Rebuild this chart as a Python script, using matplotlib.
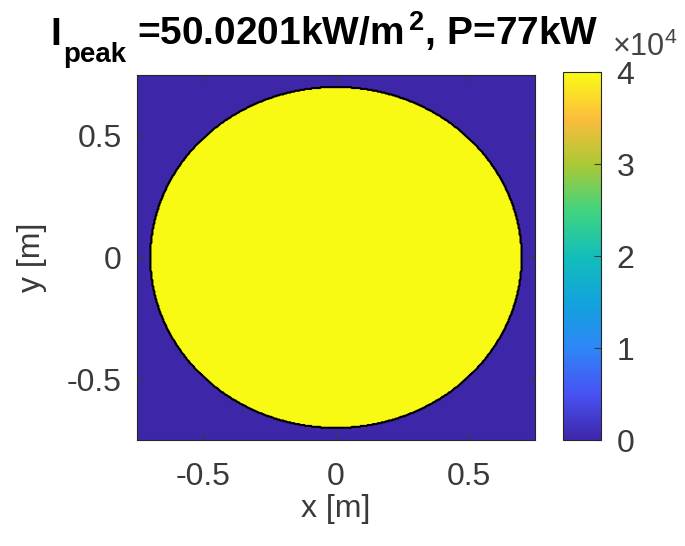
import numpy as np
import matplotlib
matplotlib.use('Agg')
from matplotlib import pyplot as plt
from matplotlib.colors import LinearSegmentedColormap

# beam spot: flat-top disc on a square grid
i_peak = 50.0201e3      # W/m^2
radius = 0.7            # m
half_width = 0.75       # m
n_grid = 401
clim = [0, 4e4]
cbar_ticks = [0, 1e4, 2e4, 3e4, 4e4]
cbar_labels = ['0', '1', '2', '3', '4']
ax_ticks = [-0.5, 0, 0.5]
ax_labels = ['-0.5', '0', '0.5']

# parula-like colormap (anchor colours from MATLAB's parula)
parula_pts = [
    (0.2422, 0.1504, 0.6603),
    (0.2810, 0.3228, 0.9579),
    (0.1786, 0.5289, 0.9682),
    (0.0689, 0.6396, 0.8637),
    (0.0704, 0.7457, 0.7258),
    (0.2586, 0.8292, 0.4968),
    (0.6710, 0.7863, 0.2061),
    (0.9892, 0.7415, 0.2391),
    (0.9769, 0.9839, 0.0805),
]
parula = LinearSegmentedColormap.from_list('parula', parula_pts)

plt.rcParams['font.family'] = ['Liberation Sans', 'DejaVu Sans']
plt.rcParams['mathtext.fontset'] = 'custom'
plt.rcParams['mathtext.bf'] = 'Liberation Sans:bold'
plt.rcParams['mathtext.rm'] = 'Liberation Sans'
plt.rcParams['mathtext.default'] = 'bf'

x = np.linspace(-half_width, half_width, n_grid)
y = np.linspace(-half_width, half_width, n_grid)
X, Y = np.meshgrid(x, y)
intensity = np.where(X**2 + Y**2 <= radius**2, i_peak, 0.0)

fig = plt.figure(figsize=(6.85, 5.46), dpi=100)
ax = fig.add_axes([0.2, 0.194, 0.581, 0.669])
cax = fig.add_axes([0.822, 0.194, 0.0555, 0.674])

im = ax.imshow(intensity, extent=[x[0], x[-1], y[0], y[-1]], origin='lower',
               cmap=parula, vmin=clim[0], vmax=clim[1], aspect='auto',
               interpolation='nearest')
ax.contour(X, Y, intensity, levels=[i_peak / 2], colors='black', linewidths=1.5)

tick_color = '#3a3a3a'
fs = 23
ax.set_xticks(ax_ticks)
ax.set_xticklabels(ax_labels)
ax.set_yticks(ax_ticks)
ax.set_yticklabels(ax_labels)
ax.tick_params(direction='in', length=5, colors=tick_color, labelsize=fs,
               top=True, right=True)
ax.tick_params(axis='x', pad=16)
ax.tick_params(axis='y', pad=11)
for s in ax.spines.values():
    s.set_color('#262626')
ax.set_xlabel('x [m]', fontsize=fs, color=tick_color, labelpad=1)
ax.set_ylabel('y [m]', fontsize=fs, color=tick_color, labelpad=14)

cbar = fig.colorbar(im, cax=cax)
cbar.set_ticks(cbar_ticks)
cbar.set_ticklabels(cbar_labels)
cax.tick_params(direction='in', length=5, colors=tick_color, labelsize=fs, pad=11)
cbar.outline.set_edgecolor('#262626')

# title pieces (MATLAB-style subscript sits well below the baseline)
fig.text(0.073, 0.918, 'I', fontsize=28, fontweight='bold', color='black',
         ha='left', va='baseline')
fig.text(0.092, 0.886, 'peak', fontsize=20, fontweight='bold', color='black',
         ha='left', va='baseline')
fig.text(0.2, 0.918, r'=50.0201kW/m$^{\,2}$, P=77kW', fontsize=28,
         fontweight='bold', color='black', ha='left', va='baseline')
fig.text(0.893, 0.898, r'$\mathregular{\times10^4}$', fontsize=22,
         color='#444444', ha='left', va='baseline')

plt.savefig('out.png', dpi=100)
